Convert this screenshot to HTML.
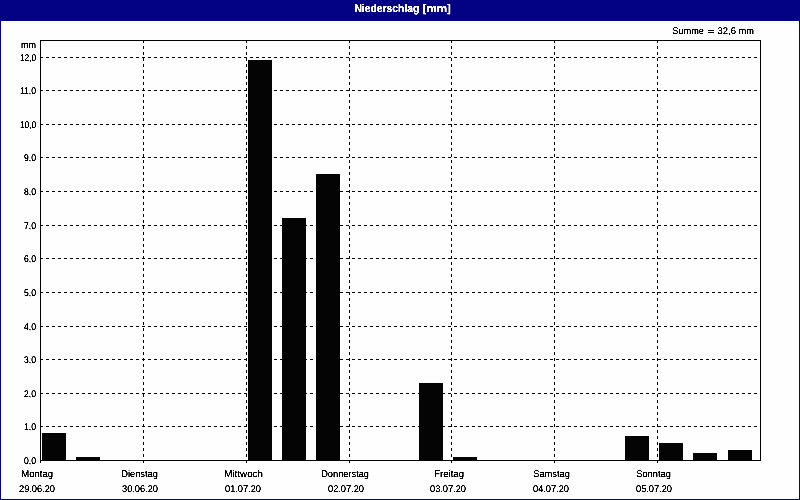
<!DOCTYPE html>
<html><head><meta charset="utf-8"><title>Niederschlag [mm]</title>
<style>
html,body{margin:0;padding:0;background:#fdfefd;}
body{width:800px;height:500px;overflow:hidden;}
svg{display:block;}
text{font-family:"Liberation Sans",sans-serif;font-size:9.8px;text-rendering:geometricPrecision;fill:#000;}
.t{font-weight:bold;fill:#fff;font-size:11.2px;}
</style></head><body>
<svg width="800" height="500" viewBox="0 0 800 500">
<defs><filter id="th" x="0" y="0" width="800" height="500" filterUnits="userSpaceOnUse" color-interpolation-filters="sRGB"><feComponentTransfer><feFuncA type="linear" slope="3.5" intercept="-0.7"/></feComponentTransfer></filter></defs>
<rect x="0" y="0" width="800" height="500" fill="#040284" shape-rendering="crispEdges"/>
<rect x="1" y="21" width="798" height="478" fill="#fdfefd" shape-rendering="crispEdges"/>
<g stroke="#000" stroke-width="1" fill="none" shape-rendering="crispEdges">
<line x1="40" y1="57.5" x2="761" y2="57.5" stroke-dasharray="3 3"/>
<line x1="40" y1="90.5" x2="761" y2="90.5" stroke-dasharray="3 3"/>
<line x1="40" y1="124.5" x2="761" y2="124.5" stroke-dasharray="3 3"/>
<line x1="40" y1="157.5" x2="761" y2="157.5" stroke-dasharray="3 3"/>
<line x1="40" y1="191.5" x2="761" y2="191.5" stroke-dasharray="3 3"/>
<line x1="40" y1="225.5" x2="761" y2="225.5" stroke-dasharray="3 3"/>
<line x1="40" y1="258.5" x2="761" y2="258.5" stroke-dasharray="3 3"/>
<line x1="40" y1="292.5" x2="761" y2="292.5" stroke-dasharray="3 3"/>
<line x1="40" y1="326.5" x2="761" y2="326.5" stroke-dasharray="3 3"/>
<line x1="40" y1="359.5" x2="761" y2="359.5" stroke-dasharray="3 3"/>
<line x1="40" y1="393.5" x2="761" y2="393.5" stroke-dasharray="3 3"/>
<line x1="40" y1="426.5" x2="761" y2="426.5" stroke-dasharray="3 3"/>
<line x1="143.5" y1="40" x2="143.5" y2="463" stroke-dasharray="3 3"/>
<line x1="246.5" y1="40" x2="246.5" y2="463" stroke-dasharray="3 3"/>
<line x1="349.5" y1="40" x2="349.5" y2="463" stroke-dasharray="3 3"/>
<line x1="451.5" y1="40" x2="451.5" y2="463" stroke-dasharray="3 3"/>
<line x1="554.5" y1="40" x2="554.5" y2="463" stroke-dasharray="3 3"/>
<line x1="657.5" y1="40" x2="657.5" y2="463" stroke-dasharray="3 3"/>
<line x1="40.5" y1="40" x2="40.5" y2="463"/>
<line x1="40" y1="40.5" x2="761" y2="40.5"/>
<line x1="40" y1="460.5" x2="761" y2="460.5"/>
<line x1="760.5" y1="40" x2="760.5" y2="461"/>
</g>
<g fill="#040404" shape-rendering="crispEdges">
<rect x="42" y="433" width="24" height="27"/>
<rect x="76" y="457" width="24" height="3"/>
<rect x="248" y="60" width="24" height="400"/>
<rect x="282" y="218" width="24" height="242"/>
<rect x="316" y="174" width="24" height="286"/>
<rect x="419" y="383" width="24" height="77"/>
<rect x="453" y="457" width="24" height="3"/>
<rect x="625" y="436" width="24" height="24"/>
<rect x="659" y="443" width="24" height="17"/>
<rect x="693" y="453" width="24" height="7"/>
<rect x="728" y="450" width="24" height="10"/>
</g>
<g filter="url(#th)">
<text x="354.4" y="12" textLength="65" lengthAdjust="spacingAndGlyphs" class="t">Niederschlag</text>
<text x="422.6" y="12" textLength="28.4" lengthAdjust="spacingAndGlyphs" class="t">[mm]</text>
<text x="672.3" y="34" textLength="31.7" lengthAdjust="spacingAndGlyphs">Summe</text>
<rect x="708" y="30" width="6" height="1" fill="#000" shape-rendering="crispEdges"/><rect x="708" y="32" width="6" height="1" fill="#000" shape-rendering="crispEdges"/>
<text x="717.6" y="34" textLength="18.4" lengthAdjust="spacingAndGlyphs">32,6</text>
<text x="738.6" y="34" textLength="15.4" lengthAdjust="spacingAndGlyphs">mm</text>
<text x="21" y="48" textLength="15" lengthAdjust="spacingAndGlyphs">mm</text>
<text x="20" y="61" textLength="16" lengthAdjust="spacingAndGlyphs">12,0</text>
<text x="20" y="94" textLength="16" lengthAdjust="spacingAndGlyphs">11,0</text>
<text x="20" y="128" textLength="16" lengthAdjust="spacingAndGlyphs">10,0</text>
<text x="24" y="161" textLength="12" lengthAdjust="spacingAndGlyphs">9,0</text>
<text x="24" y="195" textLength="12" lengthAdjust="spacingAndGlyphs">8,0</text>
<text x="24" y="229" textLength="12" lengthAdjust="spacingAndGlyphs">7,0</text>
<text x="24" y="262" textLength="12" lengthAdjust="spacingAndGlyphs">6,0</text>
<text x="24" y="296" textLength="12" lengthAdjust="spacingAndGlyphs">5,0</text>
<text x="24" y="330" textLength="12" lengthAdjust="spacingAndGlyphs">4,0</text>
<text x="24" y="363" textLength="12" lengthAdjust="spacingAndGlyphs">3,0</text>
<text x="24" y="397" textLength="12" lengthAdjust="spacingAndGlyphs">2,0</text>
<text x="24" y="430" textLength="12" lengthAdjust="spacingAndGlyphs">1,0</text>
<text x="24" y="464" textLength="12" lengthAdjust="spacingAndGlyphs">0,0</text>
<text x="21.2" y="477" textLength="31.8" lengthAdjust="spacingAndGlyphs">Montag</text>
<text x="121.2" y="477" textLength="36.8" lengthAdjust="spacingAndGlyphs">Dienstag</text>
<text x="224.2" y="477" textLength="38.8" lengthAdjust="spacingAndGlyphs">Mittwoch</text>
<text x="321.2" y="477" textLength="47.8" lengthAdjust="spacingAndGlyphs">Donnerstag</text>
<text x="434.2" y="477" textLength="29.8" lengthAdjust="spacingAndGlyphs">Freitag</text>
<text x="533.2" y="477" textLength="36.8" lengthAdjust="spacingAndGlyphs">Samstag</text>
<text x="636.2" y="477" textLength="34.8" lengthAdjust="spacingAndGlyphs">Sonntag</text>
<text x="19" y="492" textLength="36" lengthAdjust="spacingAndGlyphs">29.06.20</text>
<text x="122" y="492" textLength="36" lengthAdjust="spacingAndGlyphs">30.06.20</text>
<text x="225" y="492" textLength="36" lengthAdjust="spacingAndGlyphs">01.07.20</text>
<text x="328" y="492" textLength="36" lengthAdjust="spacingAndGlyphs">02.07.20</text>
<text x="430" y="492" textLength="36" lengthAdjust="spacingAndGlyphs">03.07.20</text>
<text x="533" y="492" textLength="36" lengthAdjust="spacingAndGlyphs">04.07.20</text>
<text x="636" y="492" textLength="36" lengthAdjust="spacingAndGlyphs">05.07.20</text>
</g>
</svg>
</body></html>
